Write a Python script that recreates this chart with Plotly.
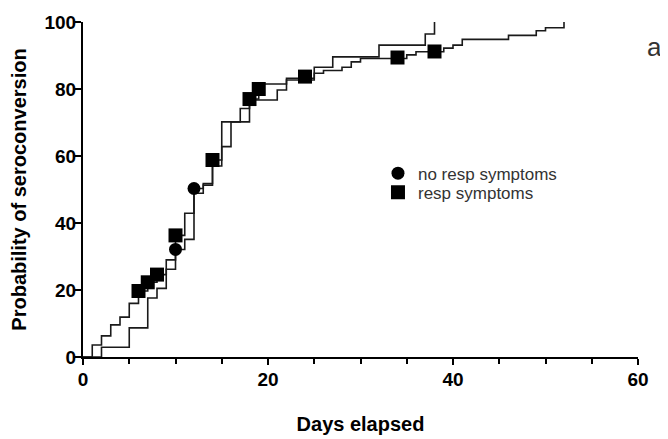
import plotly.graph_objects as go

# Step curves (day, cumulative % seroconverted)
no_resp_days = [0, 2, 5, 7, 8, 9, 10, 11, 12, 13, 14, 15, 17, 18, 21, 22, 25, 27, 32, 37, 38]
no_resp_vals = [0, 2.9, 8.7, 17.6, 20.5, 26.2, 32.1, 35.1, 50.3, 51.8, 57.0, 70.2, 74.2, 76.7, 79.7, 82.7, 86.5, 89.6, 93.1, 96.4, 100]

resp_days = [0, 1, 2, 3, 4, 5, 6, 7, 8, 9, 10, 11, 12, 13, 14, 15, 16, 18, 19, 22, 25, 26, 28, 29, 30, 35, 36, 39, 40, 41, 46, 49, 50, 52]
resp_vals = [0, 3.6, 6.3, 9.6, 11.9, 16.0, 19.7, 22.3, 24.6, 29.0, 36.3, 42.9, 48.9, 51.3, 58.8, 62.8, 70.2, 77.0, 81.5, 83.2, 84.7, 85.5, 86.5, 88.1, 89.1, 90.2, 91.1, 92.2, 93.1, 94.8, 96.0, 97.4, 98.3, 100]

# Censoring marks
no_resp_mark_days = [10, 12]
no_resp_mark_vals = [32.1, 50.3]
resp_mark_days = [6, 7, 8, 10, 14, 18, 19, 24, 34, 38]
resp_mark_vals = [19.7, 22.3, 24.6, 36.3, 58.8, 77.0, 80.0, 83.7, 89.4, 91.2]

x_ticks = [0, 20, 40, 60]
y_ticks = [0, 20, 40, 60, 80, 100]

FONT = "Arial, Liberation Sans, sans-serif"
LINE = "#1a1a1a"

fig = go.Figure()
fig.add_trace(go.Scatter(x=no_resp_days, y=no_resp_vals, mode="lines",
                         line=dict(color=LINE, width=1.6, shape="hv"),
                         showlegend=False, cliponaxis=False, hoverinfo="skip"))
fig.add_trace(go.Scatter(x=resp_days, y=resp_vals, mode="lines",
                         line=dict(color=LINE, width=1.6, shape="hv"),
                         showlegend=False, cliponaxis=False, hoverinfo="skip"))
fig.add_trace(go.Scatter(x=no_resp_mark_days, y=no_resp_mark_vals, mode="markers",
                         name="no resp symptoms", legend="legend",
                         marker=dict(symbol="circle", size=13, color="black"),
                         cliponaxis=False))
fig.add_trace(go.Scatter(x=resp_mark_days, y=resp_mark_vals, mode="markers",
                         name="resp symptoms", legend="legend2",
                         marker=dict(symbol="square", size=14, color="black"),
                         cliponaxis=False))

legend_common = dict(x=0.5315, xanchor="left", yanchor="top",
                     bgcolor="rgba(0,0,0,0)", font=dict(size=17, color="#333333"),
                     itemwidth=30)

fig.update_layout(
    width=660, height=431,
    margin=dict(l=75, r=30, t=14, b=82),
    paper_bgcolor="white", plot_bgcolor="white",
    font=dict(family=FONT, color="black"),
    showlegend=True,
    legend=dict(y=0.601, **legend_common),
    legend2=dict(y=0.544, **legend_common),
    xaxis=dict(range=[0, 60], tickvals=x_ticks, ticks="outside", ticklen=6, tickwidth=2,
               tickcolor="black", showline=True, linecolor="black", linewidth=2,
               showgrid=False, zeroline=False, automargin=False, ticklabelstandoff=-2,
               tickfont=dict(size=19, family=FONT, color="black", weight="bold"),
               minor=dict(dtick=5, ticks="outside", ticklen=5, tickwidth=1.5, tickcolor="black", showgrid=False),
               title=dict(text="<b>Days elapsed</b>", font=dict(size=20, family=FONT), standoff=28)),
    yaxis=dict(range=[0, 100], tickvals=y_ticks, ticks="outside", ticklen=6, tickwidth=2,
               tickcolor="black", showline=True, linecolor="black", linewidth=2,
               showgrid=False, zeroline=False, automargin=False, ticklabelstandoff=-5,
               tickfont=dict(size=19, family=FONT, color="black", weight="bold"),
               title=dict(text="<b>Probability of seroconversion</b>", font=dict(size=20, family=FONT), standoff=12)),
    annotations=[dict(text="a", xref="paper", yref="paper", x=1.0306, y=0.925,
                      xanchor="center", yanchor="middle", showarrow=False,
                      font=dict(size=26, family=FONT, color="#333333"))],
)

fig.write_html("out.html")
